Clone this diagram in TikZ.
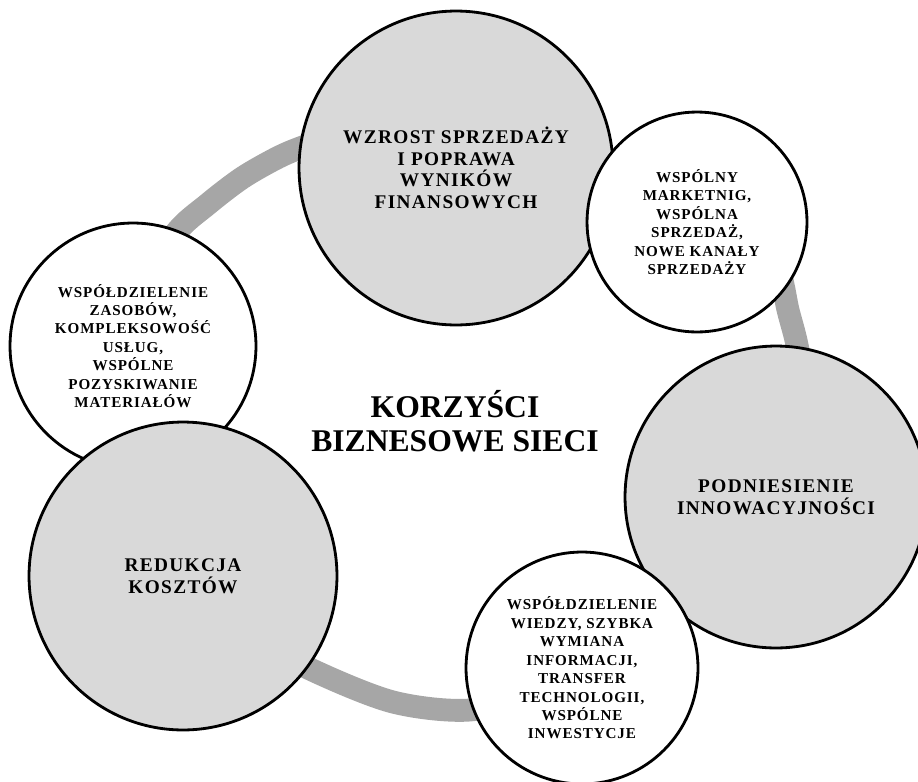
\documentclass[tikz,border=0pt]{standalone}
\usepackage{fontspec}
\setmainfont{Liberation Serif}
\newfontfamily\kolkofont[LetterSpace=6]{Liberation Serif}
\newfontfamily\duzefont[LetterSpace=7]{Liberation Serif}
\definecolor{szaryfill}{HTML}{D9D9D9}
\definecolor{szarypierscien}{HTML}{A6A6A6}

\begin{document}
\begin{tikzpicture}[x=0.02cm,y=-0.02cm,
  duze/.style={circle,draw=black,line width=1.6pt,fill=szaryfill,inner sep=0pt,align=center,
    font=\duzefont\bfseries\fontsize{11}{12.3}\selectfont},
  male/.style={circle,draw=black,line width=1.6pt,fill=white,inner sep=0pt,align=center,
    font=\kolkofont\bfseries\fontsize{8.6}{10.5}\selectfont}]
\useasboundingbox (0,0) rectangle (918,781);

% pierscien pod kolami
\draw[szarypierscien,line width=13pt] plot[smooth cycle] coordinates {
  (175,234) (208,204) (242,178) (275,159) (300,148) (350,131) (410,121) (470,124)
  (540,155) (600,190) (680,200) (750,225) (778,268) (788,310) (797,345) (806,400)
  (795,460) (740,530) (665,595) (610,643) (540,690) (470,710) (393,702) (310,669)
  (240,630) (180,580) (140,520) (120,450) (118,380) (135,300)};

\node[male,minimum size=4.92cm] (zasoby) at (133,346) {WSPÓŁDZIELENIE\\ZASOBÓW,\\KOMPLEKSOWOŚĆ\\USŁUG,\\WSPÓLNE\\POZYSKIWANIE\\MATERIAŁÓW};
\node[duze,minimum size=6.16cm] (redukcja) at (183,576) {REDUKCJA\\KOSZTÓW};
\node[duze,minimum size=6.28cm] (wzrost) at (456,168) {WZROST SPRZEDAŻY\\I POPRAWA\\WYNIKÓW\\FINANSOWYCH};
\node[male,minimum size=4.4cm] (marketing) at (697,222) {WSPÓLNY\\MARKETNIG,\\WSPÓLNA\\SPRZEDAŻ,\\NOWE KANAŁY\\SPRZEDAŻY};
\node[duze,minimum size=6.04cm] (innowacje) at (776,497) {PODNIESIENIE\\INNOWACYJNOŚCI};
\node[male,minimum size=4.64cm] (wiedza) at (582,668) {WSPÓŁDZIELENIE\\WIEDZY, SZYBKA\\WYMIANA\\INFORMACJI,\\TRANSFER\\TECHNOLOGII,\\WSPÓLNE\\INWESTYCJE};

\node[align=center,font=\bfseries\fontsize{18}{19}\selectfont] (tytul) at (455,421) {KORZYŚCI\\BIZNESOWE SIECI};
\end{tikzpicture}
\end{document}
